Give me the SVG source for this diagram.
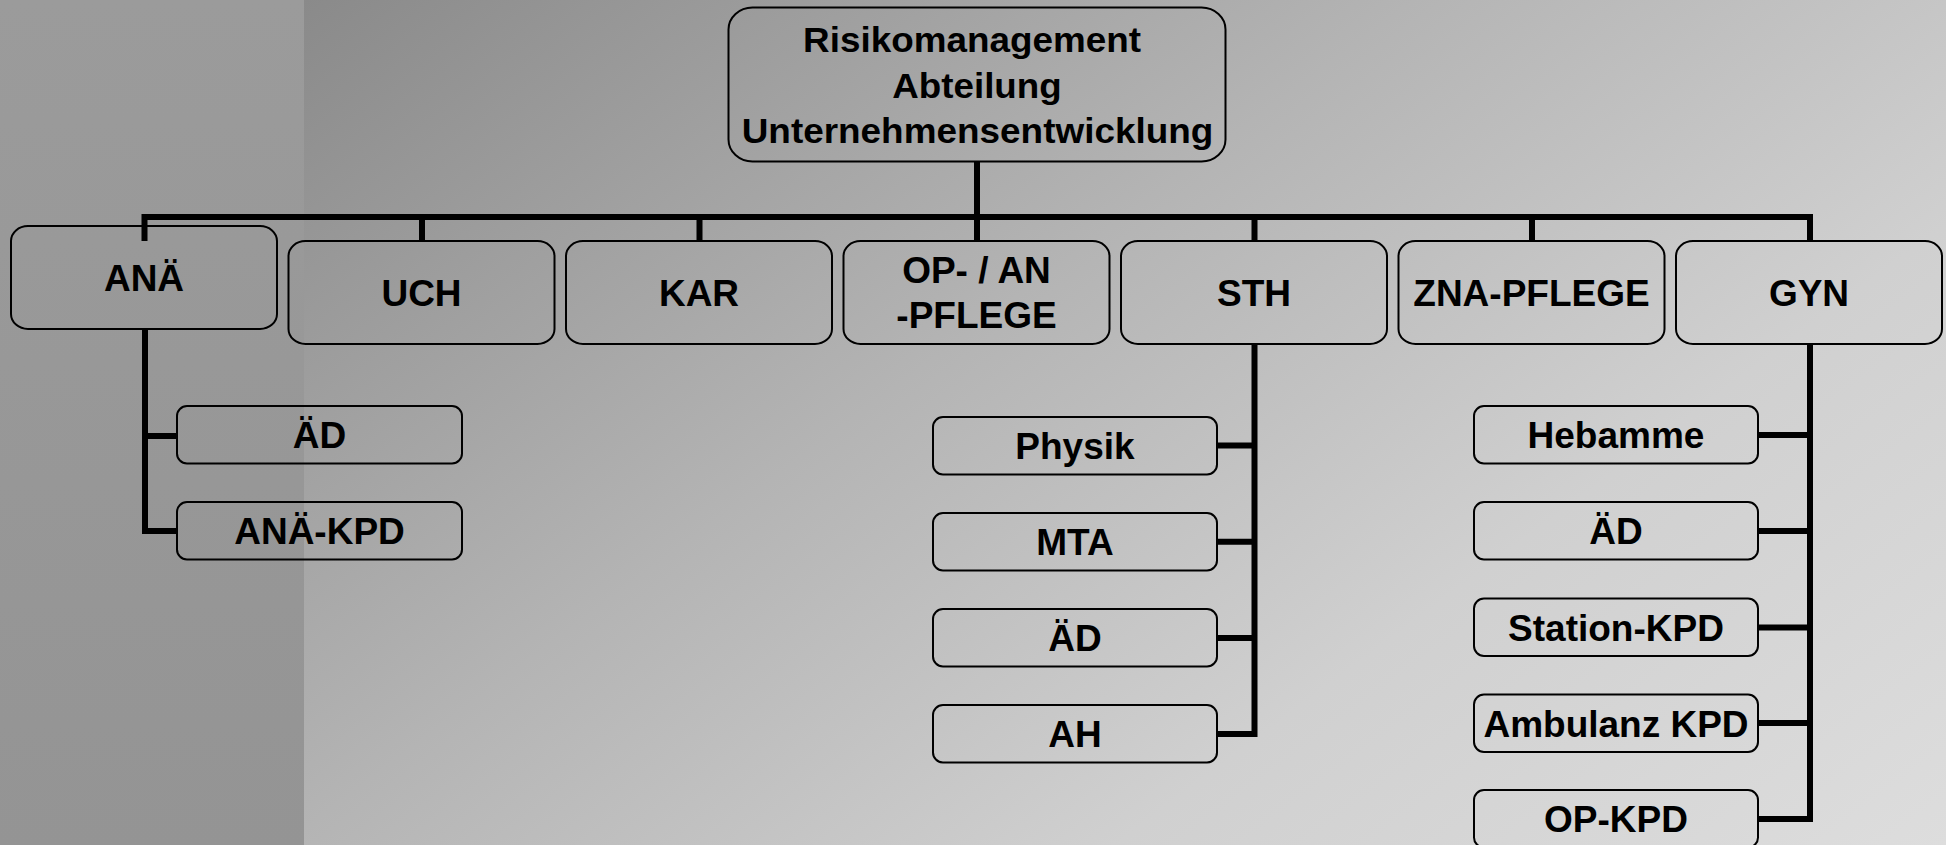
<svg xmlns="http://www.w3.org/2000/svg" width="1946" height="845" viewBox="0 0 1946 845">
<style>
.box{fill:none;stroke:#000;stroke-width:2}
.lbl{font-family:"Liberation Sans",Arial,sans-serif;font-weight:bold;font-size:37px;fill:#000;text-anchor:middle}
.ttl{font-family:"Liberation Sans",Arial,sans-serif;font-weight:bold;font-size:34.5px;fill:#000;text-anchor:middle}
.conn{fill:none;stroke:#000;stroke-width:6;stroke-linejoin:miter;stroke-linecap:butt}
</style>
<defs>
<linearGradient id="bg" gradientUnits="userSpaceOnUse" x1="304" y1="0" x2="1297" y2="1331">
<stop offset="0" stop-color="#8a8a8a"/>
<stop offset="0.4" stop-color="#b4b4b4"/>
<stop offset="0.7" stop-color="#d0d0d0"/>
<stop offset="1" stop-color="#dddddd"/>
</linearGradient>
<linearGradient id="band" x1="0" y1="0" x2="0" y2="1">
<stop offset="0" stop-color="#9b9b9b"/>
<stop offset="1" stop-color="#949494"/>
</linearGradient>
</defs>
<g id="background">
<rect x="0" y="0" width="1946" height="845" fill="url(#bg)"/>
<rect x="0" y="0" width="304" height="845" fill="url(#band)"/>
</g>
<g id="connectors">
<path class="conn" d="M977,161 V217"/>
<path class="conn" d="M144.5,241 V217 H1810 V241"/>
<path class="conn" d="M422,217 V241 M699.5,217 V241 M977,217 V241 M1254.5,217 V241 M1532,217 V241"/>
<path class="conn" d="M145,329 V531 H177 M145,436 H177"/>
<path class="conn" d="M1254.5,344 V734 H1217 M1254.5,445.5 H1217 M1254.5,541.7 H1217 M1254.5,638 H1217"/>
<path class="conn" d="M1810,344 V819 H1758 M1810,435 H1758 M1810,531 H1758 M1810,627.5 H1758 M1810,723 H1758"/>
</g>
<g id="root">
<rect class="box" x="728.5" y="7.5" width="497" height="154" rx="24" ry="22"/>
<text class="ttl" transform="translate(972 52.3) scale(1.068 1)">Risikomanagement</text>
<text class="ttl" transform="translate(977 97.5) scale(1.065 1)">Abteilung</text>
<text class="ttl" transform="translate(977.5 142.7) scale(1.07 1)">Unternehmensentwicklung</text>
</g>
<g id="ana">
<rect class="box" x="11" y="226" width="266" height="103" rx="17" ry="15"/>
<text class="lbl" x="144" y="290.7">ANÄ</text>
</g>
<g id="uch">
<rect class="box" x="288.5" y="241" width="266" height="103" rx="17" ry="15"/>
<text class="lbl" x="421.5" y="306">UCH</text>
</g>
<g id="kar">
<rect class="box" x="566" y="241" width="266" height="103" rx="17" ry="15"/>
<text class="lbl" x="699" y="306">KAR</text>
</g>
<g id="op-an-pflege">
<rect class="box" x="843.5" y="241" width="266" height="103" rx="17" ry="15"/>
<text class="lbl" x="976.5" y="283.3">OP- / AN</text>
<text class="lbl" x="976.5" y="328.3">-PFLEGE</text>
</g>
<g id="sth">
<rect class="box" x="1121" y="241" width="266" height="103" rx="17" ry="15"/>
<text class="lbl" x="1254" y="306">STH</text>
</g>
<g id="zna-pflege">
<rect class="box" x="1398.5" y="241" width="266" height="103" rx="17" ry="15"/>
<text class="lbl" x="1531.5" y="306">ZNA-PFLEGE</text>
</g>
<g id="gyn">
<rect class="box" x="1676" y="241" width="266" height="103" rx="17" ry="15"/>
<text class="lbl" x="1809" y="306">GYN</text>
</g>
<g id="ana-ad">
<rect class="box" x="177" y="406" width="285" height="57.5" rx="10"/>
<text class="lbl" x="319.5" y="448">ÄD</text>
</g>
<g id="ana-kpd">
<rect class="box" x="177" y="502" width="285" height="57.5" rx="10"/>
<text class="lbl" x="319.5" y="544">ANÄ-KPD</text>
</g>
<g id="sth-physik">
<rect class="box" x="933" y="417" width="284" height="57.5" rx="10"/>
<text class="lbl" x="1075" y="459">Physik</text>
</g>
<g id="sth-mta">
<rect class="box" x="933" y="513" width="284" height="57.5" rx="10"/>
<text class="lbl" x="1075" y="555">MTA</text>
</g>
<g id="sth-ad">
<rect class="box" x="933" y="609" width="284" height="57.5" rx="10"/>
<text class="lbl" x="1075" y="651">ÄD</text>
</g>
<g id="sth-ah">
<rect class="box" x="933" y="705" width="284" height="57.5" rx="10"/>
<text class="lbl" x="1075" y="747">AH</text>
</g>
<g id="gyn-hebamme">
<rect class="box" x="1474" y="406" width="284" height="57.5" rx="10"/>
<text class="lbl" x="1616" y="448">Hebamme</text>
</g>
<g id="gyn-ad">
<rect class="box" x="1474" y="502" width="284" height="57.5" rx="10"/>
<text class="lbl" x="1616" y="544">ÄD</text>
</g>
<g id="gyn-station-kpd">
<rect class="box" x="1474" y="598.5" width="284" height="57.5" rx="10"/>
<text class="lbl" x="1616" y="640.5">Station-KPD</text>
</g>
<g id="gyn-ambulanz-kpd">
<rect class="box" x="1474" y="694.5" width="284" height="57.5" rx="10"/>
<text class="lbl" x="1616" y="736.5">Ambulanz KPD</text>
</g>
<g id="gyn-op-kpd">
<rect class="box" x="1474" y="790" width="284" height="57.5" rx="10"/>
<text class="lbl" x="1616" y="832">OP-KPD</text>
</g>
</svg>
